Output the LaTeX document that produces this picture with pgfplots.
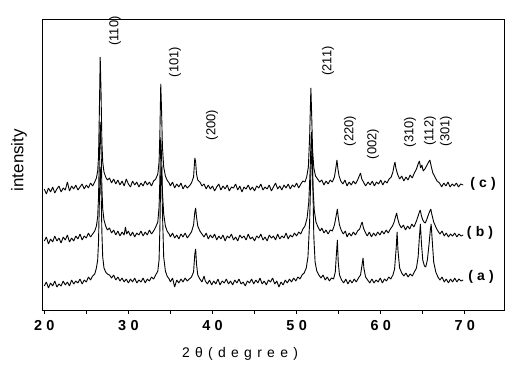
\documentclass[border=0pt]{standalone}
\usepackage{fontspec}
\setmainfont{Liberation Sans}
\newfontfamily\spacedfont[LetterSpace=30]{Liberation Sans}
\newfontfamily\xlabfont[LetterSpace=38]{Liberation Sans}
\usepackage{pgfplots}
\pgfplotsset{compat=1.18}
\begin{document}
\begin{tikzpicture}
\useasboundingbox (-42bp,-62bp) rectangle (484bp,310bp);
\begin{axis}[
  at={(0,0)}, anchor=south west,
  width=462bp, height=291bp, scale only axis,
  xmin=19.73, xmax=74.66, ymin=62, ymax=353,
  clip=false,
  xtick={20,30,40,50,60,70},
  xticklabels={20,30,40,50,60,70},
  minor xtick={25,35,45,55,65},
  xtick pos=bottom,
  ytick=\empty,
  tick align=outside,
  major tick length=4bp, minor tick length=4bp,
  every tick/.style={black, line width=0.7bp},
  axis line style={line width=0.8bp},
  /pgf/number format/assume math mode=true,
  xticklabel style={font=\spacedfont\bfseries\fontsize{14.5}{14.5}\selectfont, yshift=-3bp},
  xlabel={\xlabfont\fontsize{14}{14}\selectfont 2θ(degree)},
  xlabel style={at={(axis description cs:0.4286,-0.151)}, anchor=center},
  ylabel={\fontsize{17}{17}\selectfont intensity},
  ylabel style={at={(axis description cs:-0.05,0.515)}, anchor=center},
  cycle list={{black, solid, line width=0.9bp, mark=none}},
]
% curve (a)
\addplot[black, line width=0.9bp, mark=none, line join=bevel] table {
20.00 86
20.25 90
20.50 84
20.75 89
21.00 86
21.25 91
21.50 85
21.75 88
22.00 86
22.25 91
22.50 87
22.75 90
23.00 86
23.25 92
23.50 88
23.75 91
24.00 89
24.25 93
24.50 88
24.75 92
25.00 90
25.25 95
25.50 92
25.75 96
26.00 98
26.20 104
26.35 112
26.45 130
26.55 170
26.65 205
26.75 185
26.85 140
26.95 115
27.10 104
27.30 100
27.50 98
27.75 97
28.00 94
28.25 97
28.50 92
28.75 95
29.00 91
29.25 94
29.50 90
29.75 93
30.00 89
30.25 93
30.50 90
30.75 94
31.00 89
31.25 92
31.50 90
31.75 94
32.00 89
32.25 93
32.50 91
32.75 95
33.00 93
33.25 97
33.50 101
33.65 112
33.75 145
33.85 200
33.95 205
34.05 160
34.20 115
34.40 101
34.60 96
34.85 93
35.00 90
35.25 94
35.50 85
35.75 92
36.00 89
36.25 93
36.50 90
36.75 94
37.00 91
37.25 93
37.50 95
37.75 100
37.90 118
38.00 123
38.10 108
38.25 97
38.50 93
38.75 90
39.00 96
39.15 91
39.40 88
39.65 92
39.90 87
40.15 91
40.40 88
40.65 93
40.90 87
41.15 91
41.40 89
41.65 93
41.90 88
42.15 91
42.40 87
42.65 92
42.90 89
43.15 93
43.40 88
43.65 90
43.90 86
44.15 91
44.40 89
44.65 93
44.90 88
45.15 92
45.40 89
45.65 94
45.90 88
46.15 91
46.40 87
46.65 92
46.90 90
47.15 94
47.40 88
47.65 91
47.90 85
48.15 90
48.40 87
48.65 92
48.90 89
49.15 93
49.40 90
49.65 94
49.90 91
50.15 95
50.40 93
50.65 97
50.90 99
51.15 104
51.35 115
51.55 150
51.70 200
51.85 225
51.95 180
52.05 135
52.20 110
52.40 101
52.65 97
52.90 94
53.15 97
53.40 92
53.65 95
53.90 91
54.15 94
54.40 93
54.60 100
54.75 120
54.85 132
54.95 110
55.10 97
55.35 92
55.60 89
55.85 93
56.10 88
56.35 92
56.60 89
56.85 93
57.10 90
57.35 94
57.60 97
57.80 108
57.90 114
58.00 104
58.20 95
58.45 92
58.70 89
58.95 93
59.20 89
59.45 92
59.70 90
59.95 94
60.20 89
60.45 93
60.70 91
60.95 95
61.20 93
61.45 97
61.65 103
61.85 125
61.95 140
62.05 122
62.25 104
62.50 99
62.75 96
63.00 99
63.25 95
63.50 98
63.75 96
64.00 100
64.25 104
64.45 115
64.60 135
64.72 148
64.85 128
65.00 112
65.20 106
65.35 105
65.55 112
65.75 128
65.90 142
66.00 148
66.10 135
66.30 110
66.55 100
66.80 95
67.05 92
67.30 95
67.55 90
67.80 93
68.05 89
68.30 93
68.55 90
68.80 94
69.05 90
69.30 93
69.55 91
69.80 92
};
% curve (b)
\addplot[black, line width=0.9bp, mark=none, line join=bevel] table {
20.00 131
20.25 135
20.50 128
20.75 133
21.00 130
21.25 136
21.50 131
21.75 134
22.00 129
22.25 135
22.50 132
22.75 137
23.00 130
23.25 134
23.50 131
23.75 136
24.00 133
24.25 138
24.50 132
24.75 136
25.00 134
25.25 139
25.50 135
25.75 138
26.00 141
26.20 146
26.35 155
26.45 175
26.55 215
26.65 250
26.75 225
26.85 185
26.95 163
27.10 152
27.30 146
27.50 142
27.75 144
28.00 139
28.25 142
28.50 137
28.75 141
29.00 136
29.25 140
29.50 137
29.65 145
29.80 138
30.00 141
30.25 136
30.50 140
30.75 135
31.00 139
31.25 137
31.50 141
31.75 136
32.00 140
32.25 137
32.50 142
32.75 138
33.00 141
33.25 145
33.50 150
33.65 165
33.75 195
33.85 235
33.95 215
34.05 180
34.20 158
34.40 146
34.60 141
34.85 138
35.00 135
35.25 139
35.50 134
35.75 137
36.00 133
36.25 138
36.50 135
36.75 139
37.00 134
37.25 137
37.50 140
37.75 147
37.90 160
38.00 164
38.10 155
38.25 146
38.50 141
38.75 138
39.00 135
39.25 139
39.50 133
39.75 137
40.00 134
40.25 138
40.50 132
40.75 136
41.00 133
41.25 137
41.50 131
41.75 136
42.00 134
42.25 138
42.50 132
42.75 135
43.00 131
43.25 137
43.50 134
43.75 136
44.00 132
44.25 138
44.50 133
44.75 135
45.00 131
45.25 136
45.50 134
45.75 138
46.00 132
46.25 135
46.50 131
46.75 137
47.00 134
47.25 136
47.50 132
47.75 138
48.00 133
48.25 136
48.50 134
48.75 139
49.00 133
49.25 137
49.50 135
49.75 139
50.00 136
50.25 140
50.50 138
50.75 143
51.00 146
51.25 154
51.45 170
51.60 200
51.75 240
51.85 220
51.95 185
52.10 162
52.30 150
52.55 145
52.80 141
53.00 144
53.25 139
53.50 142
53.75 138
54.00 142
54.25 141
54.50 147
54.70 156
54.85 163
54.95 155
55.10 147
55.30 142
55.55 138
55.80 141
56.00 135
56.25 139
56.50 136
56.75 140
57.00 137
57.25 141
57.50 143
57.70 148
57.80 150
57.95 144
58.15 140
58.40 136
58.65 140
58.90 135
59.15 139
59.40 136
59.65 140
59.90 137
60.15 141
60.40 138
60.65 142
60.90 139
61.15 143
61.40 146
61.60 150
61.75 155
61.90 159
62.00 154
62.20 148
62.45 144
62.70 147
62.95 142
63.20 146
63.45 143
63.70 148
63.95 145
64.20 150
64.45 156
64.60 160
64.70 162
64.85 156
65.00 152
65.15 150
65.30 149
65.50 153
65.70 158
65.85 161
65.95 163
66.10 157
66.30 150
66.55 145
66.80 141
67.05 138
67.30 141
67.55 136
67.80 139
68.05 135
68.30 138
68.55 136
68.80 139
69.05 135
69.30 138
69.55 136
69.80 137
};
% curve (c)
\addplot[black, line width=0.9bp, mark=none, line join=bevel] table {
20.00 183
20.25 178
20.50 184
20.75 180
21.00 185
21.25 179
21.50 183
21.75 186
22.00 180
22.25 184
22.50 182
22.75 190
23.00 181
23.25 186
23.50 183
23.75 187
24.00 182
24.25 185
24.50 188
24.75 183
25.00 187
25.25 184
25.50 189
25.75 186
26.00 190
26.20 194
26.35 201
26.45 215
26.55 260
26.65 315
26.75 280
26.85 230
26.95 210
27.10 200
27.30 195
27.50 192
27.75 194
28.00 189
28.25 193
28.50 188
28.75 192
29.00 187
29.25 191
29.50 186
29.75 193
30.00 188
30.25 185
30.50 191
30.75 187
31.00 190
31.25 185
31.50 189
31.75 186
32.00 191
32.25 187
32.50 190
32.75 186
33.00 191
33.25 193
33.50 198
33.65 210
33.75 240
33.85 288
33.95 260
34.05 225
34.20 205
34.40 196
34.60 192
34.85 189
35.00 186
35.25 190
35.50 184
35.75 188
36.00 185
36.25 189
36.50 183
36.75 187
37.00 184
37.25 186
37.50 189
37.75 195
37.90 214
38.00 210
38.10 198
38.25 192
38.50 190
38.75 186
39.00 188
39.25 183
39.50 187
39.75 183
40.00 186
40.25 181
40.50 185
40.75 188
41.00 182
41.25 186
41.50 183
41.75 187
42.00 181
42.25 185
42.50 184
42.75 188
43.00 182
43.25 186
43.50 180
43.75 185
44.00 183
44.25 187
44.50 182
44.75 185
45.00 181
45.25 186
45.50 184
45.75 188
46.00 182
46.25 185
46.50 183
46.75 187
47.00 181
47.25 185
47.50 189
47.75 183
48.00 186
48.25 182
48.50 187
48.75 184
49.00 188
49.25 183
49.50 187
49.75 185
50.00 189
50.25 184
50.50 188
50.75 191
51.00 190
51.20 195
51.40 205
51.55 235
51.70 284
51.80 255
51.90 222
52.05 204
52.25 196
52.50 193
52.75 190
53.00 192
53.25 187
53.50 191
53.75 188
54.00 192
54.25 190
54.50 195
54.65 203
54.80 212
54.90 204
55.05 196
55.25 191
55.50 188
55.75 192
56.00 186
56.25 190
56.50 187
56.75 191
57.00 188
57.25 192
57.45 196
57.60 199
57.75 193
57.95 190
58.20 186
58.50 190
58.75 187
59.00 191
59.25 186
59.50 190
59.75 188
60.00 192
60.25 187
60.50 191
60.75 189
61.00 193
61.25 195
61.45 200
61.60 207
61.70 210
61.80 204
62.00 198
62.25 193
62.50 196
62.75 191
63.00 195
63.25 192
63.50 197
63.75 194
64.00 199
64.25 203
64.45 208
64.60 211
64.75 204
64.90 207
65.05 201
65.25 203
65.45 206
65.70 210
65.85 212
66.00 206
66.20 199
66.45 195
66.70 191
67.00 189
67.25 185
67.50 189
67.75 186
68.00 190
68.25 185
68.50 188
68.75 186
69.00 189
69.25 185
69.50 188
69.80 187
};
\begin{scope}[every node/.style={rotate=90, font=\fontsize{13}{13}\selectfont, inner sep=0pt}]
\node at (axis cs:28.41,341) {(110)};
\node at (axis cs:35.55,310) {(101)};
\node at (axis cs:39.94,247) {(200)};
\node at (axis cs:53.74,311) {(211)};
\node at (axis cs:56.35,241) {(220)};
\node at (axis cs:59.09,228) {(002)};
\node at (axis cs:63.49,240) {(310)};
\node at (axis cs:65.87,241) {(112)};
\node at (axis cs:67.77,241) {(301)};
\end{scope}
\begin{scope}[every node/.style={font=\spacedfont\bfseries\fontsize{14}{14}\selectfont, inner sep=0pt}]
\node at (axis cs:72.17,188) {(c)};
\node at (axis cs:71.81,139) {(b)};
\node at (axis cs:71.93,95) {(a)};
\end{scope}
\end{axis}
\end{tikzpicture}
\end{document}
